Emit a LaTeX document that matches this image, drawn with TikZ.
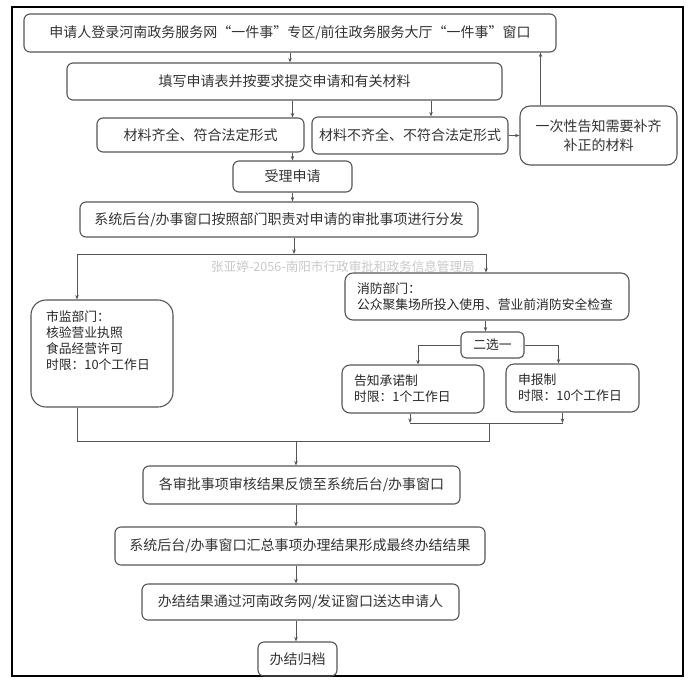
\documentclass[tikz,border=0pt]{standalone}
\usepackage{fontspec}
\setmainfont{Noto Sans CJK SC}
\usetikzlibrary{arrows.meta}
\definecolor{edgegray}{HTML}{555555}
\definecolor{textgray}{HTML}{333333}
\definecolor{markgray}{HTML}{C8C8C8}
\tikzset{
  stepnode/.style={draw=edgegray, line width=1.1pt, rounded corners=6pt, align=center,
    inner sep=0pt, text=textgray, font=\fontsize{14}{19}\selectfont},
  deptnode/.style={draw=edgegray, line width=1.1pt, rounded corners=8pt, align=left,
    inner xsep=12pt, inner ysep=0pt, text=black!85, font=\fontsize{12.8}{16}\selectfont},
  arr/.style={draw=edgegray, line width=0.9pt, -{Stealth[length=4.5pt,width=3.5pt]}},
  lnk/.style={draw=edgegray, line width=0.9pt},
}
\begin{document}
\begin{tikzpicture}[x=1pt,y=-1pt]
\useasboundingbox (0,0) rectangle (692,689);
\draw[line width=1.3pt] (12,7) rectangle (683,676);

\node[stepnode, minimum width=532pt, minimum height=38pt] (login) at (290,33)
  {申请人登录河南政务服务网“一件事”专区/前往政务服务大厅“一件事”窗口};
\node[stepnode, minimum width=435pt, minimum height=37pt] (fill) at (284.5,81.5)
  {填写申请表并按要求提交申请和有关材料};
\node[stepnode, minimum width=207pt, minimum height=34pt] (ok) at (200.5,135)
  {材料齐全、符合法定形式};
\node[stepnode, minimum width=196pt, minimum height=37pt] (notok) at (410,135.5)
  {材料不齐全、不符合法定形式};
\node[stepnode, rounded corners=10pt, minimum width=157pt, minimum height=59pt] (notify) at (598.5,135.5)
  {一次性告知需要补齐\\补正的材料};
\node[stepnode, minimum width=119pt, minimum height=31pt] (accept) at (292.5,176.5)
  {受理申请};
\node[stepnode, minimum width=398pt, minimum height=35pt] (dispatch) at (279,219.5)
  {系统后台/办事窗口按照部门职责对申请的审批事项进行分发};

\node[text=markgray, font=\fontsize{12.6}{14}\selectfont] (watermark) at (343,267)
  {张亚婷-2056-南阳市行政审批和政务信息管理局};

\node[deptnode, rounded corners=15pt, inner xsep=0pt, minimum width=142pt, minimum height=107pt] (market) at (102,353.5)
  {\begin{minipage}[c][107pt][t]{112pt}\vspace*{11pt}市监部门：\\核验营业执照\\食品经营许可\\时限：10个工作日\end{minipage}};
\node[deptnode, text width=260pt, minimum height=47pt] (fire) at (487,296.5)
  {消防部门：\\公众聚集场所投入使用、营业前消防安全检查};
\node[deptnode, rounded corners=5pt, align=center, inner xsep=0pt, minimum width=63pt, minimum height=26pt] (choose) at (492.5,345)
  {二选一};
\node[deptnode, text width=118pt, minimum height=48pt] (promise) at (413,389)
  {告知承诺制\\时限：1个工作日};
\node[deptnode, text width=109pt, minimum height=48pt] (declare) at (572.5,388)
  {申报制\\时限：10个工作日};

\node[stepnode, minimum width=317pt, minimum height=38pt] (feedback) at (301.5,485)
  {各审批事项审核结果反馈至系统后台/办事窗口};
\node[stepnode, minimum width=370pt, minimum height=38pt] (summary) at (300,546)
  {系统后台/办事窗口汇总事项办理结果形成最终办结结果};
\node[stepnode, minimum width=317pt, minimum height=36pt] (deliver) at (300.5,602)
  {办结结果通过河南政务网/发证窗口送达申请人};
\node[stepnode, minimum width=79pt, minimum height=34pt] (archive) at (297.5,659)
  {办结归档};

\draw[arr] (login.south) -- (login.south |- fill.north);
\draw[arr] (fill.south -| accept.north) -- (ok.north -| accept.north);
\draw[arr] ([xshift=21pt]notok.north |- fill.south) -- ([xshift=21pt]notok.north);
\draw[arr] (notok.east) -- (notok.east -| notify.west);
\draw[arr] ([xshift=-58pt]notify.north) -- ([xshift=-58pt]notify.north |- login.south);
\draw[arr] (ok.south -| accept.north) -- (accept.north);
\draw[arr] (accept.south) -- (accept.south |- dispatch.north);

\coordinate (split) at (294,254);
\coordinate (splitL) at (77,254);
\coordinate (splitR) at (486,254);
\draw[arr] (dispatch.south -| split) -- (split);
\draw[lnk] (splitL) -- (splitR);
\draw[arr] (splitL) -- (splitL |- market.north);
\draw[arr] (splitR) -- (splitR |- fire.north);

\draw[arr] ([xshift=-7pt]choose.north |- fire.south) -- ([xshift=-7pt]choose.north);
\draw[arr] (choose.west) -| ([xshift=5pt]promise.north);
\draw[arr] (choose.east) -| ([xshift=-14pt]declare.north);

\coordinate (optjoin) at (489,423);
\coordinate (merge) at (296,441);
\draw[arr] ([xshift=-3pt]promise.south) -- ([xshift=-3pt]promise.south |- optjoin);
\draw[arr] ([xshift=-10pt]declare.south) -- ([xshift=-10pt]declare.south |- optjoin);
\draw[lnk] ([xshift=-3pt]promise.south |- optjoin) -- ([xshift=-10pt]declare.south |- optjoin);
\draw[lnk] (splitL |- market.south) -- (splitL |- merge) -- (optjoin |- merge) -- (optjoin);

\draw[arr] (merge) -- (merge |- feedback.north);
\draw[arr] (merge |- feedback.south) -- (merge |- summary.north);
\draw[arr] (merge |- summary.south) -- (merge |- deliver.north);
\draw[arr] (merge |- deliver.south) -- (merge |- archive.north);
\end{tikzpicture}
\end{document}
